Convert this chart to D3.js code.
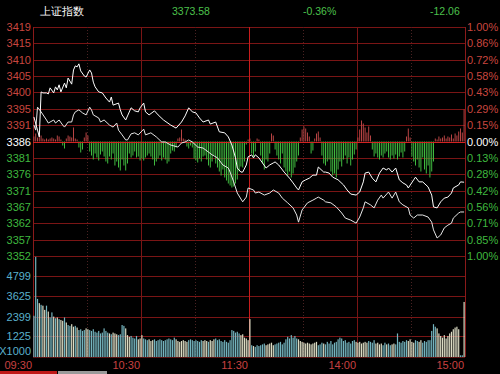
<!DOCTYPE html>
<html><head><meta charset="utf-8">
<script src="https://cdn.jsdelivr.net/npm/d3@7/dist/d3.min.js"></script>
<style>
html,body{margin:0;padding:0;background:#000;}
svg{display:block;}
text{font-family:"Liberation Sans",Arial,sans-serif;}
</style></head><body>
<div id="chart"></div>
<script>
// header quote
const indexName = "上证指数";
const lastPrice = "3373.58";
const changePct = "-0.36%";
const changePts = "-12.06";
const preClose = 3385.64;

const priceLabels = ["3419","3415","3410","3405","3400","3395","3391","3386","3381","3376","3371","3367","3362","3357","3352"];
const pctLabels = ["1.00%","0.86%","0.72%","0.58%","0.43%","0.29%","0.15%","0.00%","0.13%","0.28%","0.42%","0.56%","0.71%","0.85%","1.00%"];
const volTicks = [1225, 2399, 3625, 4799];
const timeLabels = ["09:30","10:30","11:30","14:00","15:00"];
const timeMinutes = [0, 60, 120, 180, 240];

// index (white) line, [minute, value]
const idxLine = [[0,3392.9],[2,3389.0],[3,3387.0],[4,3400.3],[5,3400.0],[7,3400.0],[8,3399.7],[9,3401.5],[11,3400.0],[12,3401.8],[13,3400.9],[14,3402.4],[15,3400.3],[17,3402.9],[18,3401.5],[19,3404.4],[21,3402.6],[22,3406.8],[23,3408.0],[24,3407.7],[25,3408.6],[26,3406.5],[28,3405.0],[29,3404.7],[31,3406.8],[32,3405.9],[33,3403.2],[34,3401.8],[36,3400.3],[38,3400.0],[40,3398.5],[42,3397.3],[43,3398.8],[44,3396.4],[47,3397.0],[48,3395.0],[49,3393.5],[51,3392.0],[52,3393.2],[54,3395.6],[56,3394.7],[58,3394.4],[59,3395.6],[61,3397.0],[62,3394.4],[64,3393.5],[67,3394.7],[69,3393.5],[72,3392.0],[76,3390.5],[79,3389.6],[82,3391.4],[84,3393.2],[86,3395.6],[88,3394.4],[90,3394.1],[92,3392.6],[94,3391.4],[97,3392.0],[98,3390.8],[101,3391.4],[103,3388.5],[106,3388.2],[108,3387.0],[110,3384.6],[112,3380.8],[113,3377.8],[115,3376.6],[116,3376.6],[118,3378.7],[119,3381.1],[121,3381.7],[122,3380.8],[123,3381.7],[125,3380.8],[127,3379.3],[129,3377.8],[131,3378.7],[133,3379.3],[134,3379.6],[136,3378.7],[139,3376.6],[142,3374.8],[144,3373.4],[146,3371.9],[147,3371.3],[149,3373.7],[151,3374.3],[153,3374.8],[155,3375.7],[157,3375.7],[158,3378.1],[161,3376.6],[162,3376.6],[164,3376.3],[166,3375.1],[169,3374.3],[172,3372.8],[174,3371.3],[176,3370.1],[179,3369.8],[181,3370.7],[183,3373.7],[184,3376.3],[186,3376.6],[188,3374.8],[190,3373.7],[192,3376.3],[194,3377.8],[196,3377.2],[197,3377.8],[199,3376.6],[201,3377.8],[203,3374.3],[205,3373.4],[207,3372.8],[208,3371.9],[211,3374.3],[212,3375.1],[214,3373.7],[216,3373.7],[219,3372.2],[221,3369.8],[222,3366.3],[224,3366.0],[226,3367.8],[228,3368.9],[230,3369.2],[232,3370.4],[233,3371.9],[236,3372.8],[237,3373.7],[239,3373.6]];

// average line, [minute, value]
const avgLine = [[0,3390.5],[1,3389.0],[2,3395.8],[4,3394.4],[7,3392.0],[8,3391.1],[11,3392.0],[12,3391.1],[14,3392.0],[16,3390.5],[17,3389.9],[19,3391.4],[21,3391.4],[22,3393.5],[23,3394.4],[25,3395.0],[27,3394.1],[29,3393.5],[31,3395.8],[32,3395.0],[33,3393.5],[36,3392.6],[37,3391.4],[39,3392.0],[42,3390.5],[44,3389.9],[46,3391.1],[47,3389.0],[49,3387.6],[51,3386.1],[52,3386.1],[54,3387.9],[56,3388.2],[58,3387.6],[61,3389.3],[62,3387.6],[65,3388.2],[68,3387.0],[71,3385.5],[73,3385.5],[76,3384.6],[80,3384.0],[82,3385.2],[84,3385.5],[86,3386.1],[88,3385.5],[91,3384.0],[94,3383.7],[97,3382.5],[99,3381.7],[102,3380.8],[105,3378.7],[108,3377.8],[109,3376.6],[111,3373.7],[113,3370.4],[116,3367.8],[118,3369.2],[119,3371.9],[122,3371.3],[123,3370.4],[125,3370.7],[128,3369.8],[131,3370.4],[133,3371.3],[136,3370.4],[138,3368.9],[141,3367.5],[144,3366.0],[146,3363.9],[147,3361.8],[149,3365.4],[152,3367.5],[155,3368.3],[157,3368.9],[158,3369.2],[161,3368.3],[162,3367.8],[165,3367.5],[168,3366.3],[171,3364.5],[173,3363.0],[176,3362.4],[179,3361.5],[181,3363.3],[183,3366.0],[184,3367.8],[187,3366.9],[189,3366.0],[191,3368.3],[193,3369.8],[194,3368.9],[197,3370.7],[199,3368.9],[201,3370.7],[203,3367.8],[205,3366.9],[208,3366.0],[209,3363.9],[211,3363.0],[213,3363.9],[216,3363.9],[219,3363.3],[221,3361.8],[222,3359.5],[224,3357.1],[226,3358.0],[228,3360.1],[230,3360.9],[232,3361.5],[233,3363.0],[236,3364.5],[237,3364.8],[239,3364.8]];

// red/green strength bars, one per minute
const leadBars = [
  5, 8, 4, 11, 6, 3, 2, 3, 2, 3,
  4, 3, 2, 6, 5, 2, -4, -7, 3, 6,
  5, 4, 14, 3, 2, -6, -11, -8, 4, 9,
  6, -10, -14, -18, -12, -16, -19, -13, -10, -15,
  -20, -22, -15, -18, -12, -24, -20, -26, -29, -18,
  -24, -29, -22, -12, -16, -14, -10, -16, -15, -19,
  -17, -19, -16, -14, -12, -15, -18, -24, -20, -17,
  -14, -19, -16, -18, -22, -20, -12, -9, -10, -6,
  3, 4, 12, 3, 2, -5, -7, -4, -6, -17,
  -19, -21, -17, -20, -15, -14, -18, -24, -26, -20,
  -14, -22, -26, -30, -34, -28, -36, -39, -42, -44,
  -46, -45, -42, -38, -30, -25, -26, -20, -3, 2,
  3, -12, -15, -10, 3, 2, -14, -22, -28, -18,
  -20, -12, 8, 6, -8, -14, -18, -22, -12, -26,
  -30, -34, -30, -36, -32, -26, -20, -14, 4, 12,
  15, 13, 9, 5, -12, -9, 3, 8, 10, 4,
  -14, -22, -24, -20, -18, -30, -34, -32, -36, -28,
  -20, -25, -18, -14, -22, -16, -24, -18, -13, -8,
  4, 12, 21, 18, 14, 9, 15, 6, -8, -15,
  -12, -16, -18, -14, -16, -12, -10, -16, -18, -14,
  -17, -13, -18, -15, -11, -16, -10, 5, 13, 4,
  -15, -20, -24, -18, -26, -30, -16, -28, -32, -24,
  -36, -30, -20, 3, 2, 5, 3, 4, 6, 3,
  5, 4, 7, 3, 8, 6, 10, 13, 9, 32
];

// volume per minute (x1000)
const volume = [
  2450, 5950, 3450, 3200, 3100, 3050, 2800, 3050, 2700, 2350,
  2650, 2400, 2300, 2350, 2250, 2200, 2150, 2350, 2050, 1900,
  1850, 1950, 1800, 1850, 1750, 1600, 1650, 1550, 1600, 1700,
  1650, 1600, 1550, 1650, 1500, 1450, 1550, 1400, 1450, 1700,
  1550, 1450, 1400, 1350, 1450, 1400, 1350, 1300, 1350, 1900,
  1850, 1700, 1300, 1200, 1250, 1150, 1100, 1250, 1050, 1100,
  1300, 1100, 1050, 1000, 1050, 950, 1000, 1050, 950, 1000,
  1050, 1000, 950, 1000, 1050, 1100, 1050, 1000, 1150, 1050,
  950, 900, 950, 1000, 950, 900, 1000, 1050, 1000, 950,
  1000, 950, 900, 1000, 950, 1000, 950, 900, 1000, 950,
  1050, 1100, 1000, 1050, 950, 900, 1000, 900, 850, 1000,
  1600, 1550, 1450, 1500, 1400, 1300, 1350, 1150, 1100, 1000,
  2250, 700, 650, 600, 700, 650, 700, 750, 800, 700,
  750, 800, 850, 700, 750, 800, 850, 900, 750, 850,
  1050, 1200, 1100, 1300, 1150, 1250, 1100, 1050, 950, 900,
  850, 800, 850, 800, 750, 800, 850, 900, 700, 750,
  850, 800, 750, 900, 800, 950, 750, 850, 900, 1050,
  1150, 1100, 950, 1000, 850, 900, 800, 950, 1000, 900,
  850, 900, 800, 850, 900, 850, 950, 900, 850, 1000,
  800, 850, 750, 800, 700, 850, 750, 800, 700, 750,
  800, 750, 1400, 900, 850, 950, 900, 1000, 950, 1050,
  900, 850, 1000, 950, 900, 1000, 850, 950, 900, 1000,
  1000, 1550, 1950, 1800, 1700, 1400, 1250, 1150, 1300, 1100,
  1250, 1400, 1500, 1650, 1750, 1800, 1650, 100, 100, 3270
];

const W = 500, H = 374;
const plotLeft = 33, plotRight = 465, plotTop = 27, priceBottom = 256, volBottom = 357;

const svg = d3.select("#chart").append("svg")
  .attr("width", W).attr("height", H)
  .style("background", "#000");

const x = d3.scaleLinear().domain([0, 240]).range([plotLeft, plotRight]);
const yP = d3.scaleLinear().domain([preClose * 0.99, preClose * 1.01]).range([priceBottom, plotTop]);
const baseY = yP(preClose);
const yLead = d3.scaleLinear().domain([-100, 100]).range([baseY + 100, baseY - 100]);
const yV = d3.scaleLinear().domain([0, 6000]).range([volBottom, priceBottom]);

const RED = "#c8463f", GREEN = "#3fb83f";

// horizontal price grid
const steps = d3.range(7, -8, -1);
svg.append("g").selectAll("line").data(steps).join("line")
  .attr("x1", plotLeft).attr("x2", plotRight)
  .attr("y1", k => Math.round(yP(preClose * (1 + k / 700))) + 0.5)
  .attr("y2", k => Math.round(yP(preClose * (1 + k / 700))) + 0.5)
  .attr("stroke", "#7a1515").attr("stroke-width", 1);

// volume grid
svg.append("g").selectAll("line").data(volTicks).join("line")
  .attr("x1", plotLeft).attr("x2", plotRight)
  .attr("y1", d => Math.round(yV(d)) + 0.5).attr("y2", d => Math.round(yV(d)) + 0.5)
  .attr("stroke", "#7a1515");

// vertical grid
const vMinutes = [30, 60, 90, 120, 150, 180, 210];
svg.append("g").selectAll("line").data(vMinutes).join("line")
  .attr("x1", d => Math.round(x(d)) + 0.5).attr("x2", d => Math.round(x(d)) + 0.5)
  .attr("y1", plotTop).attr("y2", volBottom)
  .attr("stroke", d => d === 120 ? "#c81c1c" : (d % 60 === 0 ? "#7a1515" : "#4a2222"))
  .attr("stroke-dasharray", d => d % 60 === 0 ? null : "1,2");

// frame
svg.append("g").selectAll("line").data([plotLeft, plotRight]).join("line")
  .attr("x1", d => d + 0.5).attr("x2", d => d + 0.5)
  .attr("y1", plotTop).attr("y2", volBottom)
  .attr("stroke", "#8a1a1a");
svg.append("line").attr("x1", plotLeft).attr("x2", plotRight)
  .attr("y1", volBottom + 0.5).attr("y2", volBottom + 0.5).attr("stroke", "#5a1212");

// red/green bars
svg.append("g").selectAll("rect").data(leadBars).join("rect")
  .attr("x", (d, i) => x(i) + 0.4)
  .attr("width", 1)
  .attr("y", d => Math.min(yLead(d), baseY))
  .attr("height", d => Math.abs(yLead(d) - baseY))
  .attr("fill", d => d >= 0 ? "#b84444" : GREEN);

// baseline at previous close
svg.append("line").attr("x1", plotLeft).attr("x2", plotRight)
  .attr("y1", Math.round(baseY) + 0.5).attr("y2", Math.round(baseY) + 0.5)
  .attr("stroke", "#d42222");

// volume bars, colour by index direction
const idxAt = d3.scaleLinear().domain(idxLine.map(d => d[0])).range(idxLine.map(d => d[1])).clamp(true);
svg.append("g").selectAll("rect").data(volume).join("rect")
  .attr("x", (d, i) => x(i) + 0.3)
  .attr("width", 1.2)
  .attr("y", d => yV(d))
  .attr("height", d => volBottom - yV(d))
  .attr("fill", (d, i) => idxAt(i + 1) >= idxAt(i) ? "#dcdcc4" : "#74b4be");

// price lines
const line = d3.line().x(d => x(d[0]) + 0.9).y(d => yP(d[1]));
svg.append("path").datum(avgLine).attr("d", line)
  .attr("fill", "none").attr("stroke", "#e6e6e6").attr("stroke-width", 1);
svg.append("path").datum(idxLine).attr("d", line)
  .attr("fill", "none").attr("stroke", "#ffffff").attr("stroke-width", 1);

// left price labels
svg.append("g").selectAll("text").data(priceLabels).join("text")
  .attr("x", 31).attr("y", (d, i) => yP(preClose * (1 + steps[i] / 700)) + 4)
  .attr("text-anchor", "end").attr("font-size", 11)
  .attr("fill", (d, i) => steps[i] > 0 ? RED : steps[i] === 0 ? "#ffffff" : GREEN)
  .text(d => d);

// right percent labels
svg.append("g").selectAll("text").data(pctLabels).join("text")
  .attr("x", 467).attr("y", (d, i) => yP(preClose * (1 + steps[i] / 700)) + 4)
  .attr("font-size", 11)
  .attr("fill", (d, i) => steps[i] > 0 ? RED : steps[i] === 0 ? "#ffffff" : GREEN)
  .text(d => d);

// volume labels
svg.append("g").selectAll("text").data(volTicks).join("text")
  .attr("x", 31).attr("y", d => yV(d) + 4)
  .attr("text-anchor", "end").attr("font-size", 11).attr("fill", "#5ab0cc")
  .text(d => d);
svg.append("text").attr("x", 31).attr("y", volBottom - 2)
  .attr("text-anchor", "end").attr("font-size", 11).attr("fill", "#5ab0cc")
  .text("X1000");

// time labels
svg.append("g").selectAll("text").data(timeLabels).join("text")
  .attr("x", (d, i) => x(timeMinutes[i]) - 1).attr("y", 369)
  .attr("text-anchor", "end").attr("font-size", 11).attr("fill", "#c84040")
  .text(d => d);

// header
svg.append("text").attr("x", 40).attr("y", 15)
  .attr("font-family", "'Noto Sans CJK SC', sans-serif").attr("font-size", 11)
  .attr("fill", "#ffffff").text(indexName);
const hdr = [[lastPrice, 172], [changePct, 303], [changePts, 430]];
svg.append("g").selectAll("text").data(hdr).join("text")
  .attr("x", d => d[1]).attr("y", 15)
  .attr("font-size", 10.5).attr("fill", "#4cc04c")
  .text(d => d[0]);

// bottom tabs
svg.append("rect").attr("x", 0).attr("y", 371).attr("width", 57).attr("height", 3).attr("fill", "#c01818");
svg.append("rect").attr("x", 58).attr("y", 371).attr("width", 49).attr("height", 3).attr("fill", "#9a9a9a");
</script>
</body></html>
